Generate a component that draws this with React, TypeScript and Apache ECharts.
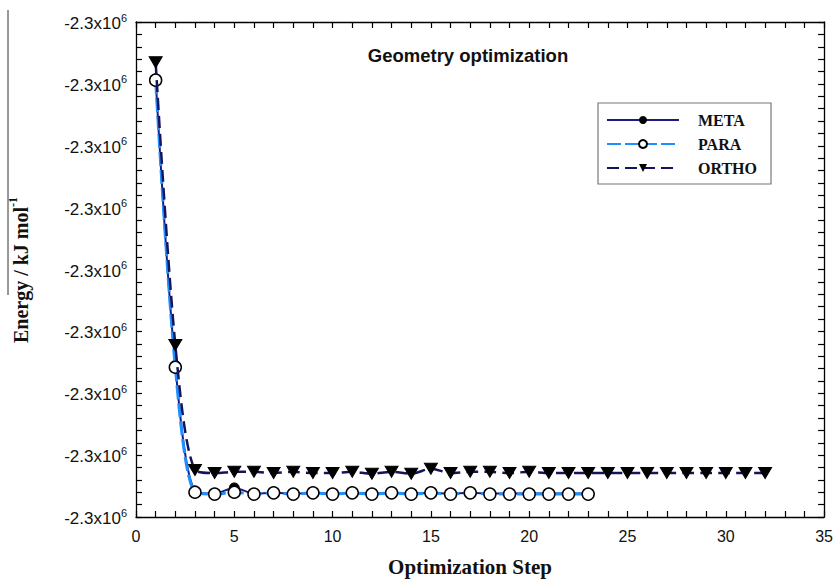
import React, { useEffect, useRef } from "react";
import * as echarts from "echarts";

const OFFSET = -2300000;
const metaSteps = [1,2,3,4,5,6,7,8,9,10,11,12,13,14,15,16,17,18,19,20,21,22,23];
const metaValues = [-9.2,-55.5,-75.8,-76.2,-75.3,-76.2,-76.1,-76.2,-76.1,-76.2,-76.1,-76.2,-76.1,-76.2,-76.1,-76.2,-76.1,-76.2,-76.2,-76.2,-76.2,-76.2,-76.2];
const paraSteps = [1,2,3,4,5,6,7,8,9,10,11,12,13,14,15,16,17,18,19,20,21,22,23];
const paraValues = [-9.4,-55.8,-76.0,-76.3,-76.0,-76.3,-76.1,-76.3,-76.1,-76.3,-76.1,-76.3,-76.1,-76.3,-76.1,-76.3,-76.1,-76.3,-76.3,-76.3,-76.3,-76.3,-76.3];
const orthoSteps = [1,2,3,4,5,6,7,8,9,10,11,12,13,14,15,16,17,18,19,20,21,22,23,24,25,26,27,28,29,30,31,32];
const orthoValues = [-6.5,-52.2,-72.4,-72.9,-72.7,-72.7,-72.9,-72.7,-72.9,-72.9,-72.7,-73.0,-72.7,-73.0,-72.2,-72.9,-72.7,-72.7,-72.9,-72.7,-72.9,-72.9,-72.9,-72.9,-72.9,-72.9,-72.9,-72.9,-72.9,-72.9,-72.9,-72.9];
const xTicks = [0, 5, 10, 15, 20, 25, 30, 35];
const yTickLabel = "-2.3x10";
const yTickExp = "6";

const pairs = (xs: number[], ys: number[]) => xs.map((x, i) => [x, OFFSET + ys[i]]);

const tick = () => ({ show: true, inside: true, length: 6, lineStyle: { color: "#000", width: 1.2 } });
const minor = () => ({ show: true, splitNumber: 5, length: 6, lineStyle: { color: "#000", width: 1.2 } });
const line = () => ({ show: true, onZero: false, lineStyle: { color: "#000", width: 1.3 } });

export default function App() {
  const ref = useRef<HTMLDivElement>(null);
  useEffect(() => {
    const chart = echarts.init(ref.current!, null, { renderer: "svg" });
    chart.setOption({
      animation: false,
      grid: { left: 136, top: 22, right: 10, bottom: 62 },
      xAxis: [
        {
          type: "value", min: 0, max: 35, interval: 5, position: "bottom",
          axisLine: line(), axisTick: tick(), minorTick: minor(),
          splitLine: { show: false },
          axisLabel: {
            margin: 11, color: "#111", fontSize: 16, fontFamily: "Liberation Sans",
            formatter: (v: number) => (xTicks.includes(v) ? String(v) : ""),
          },
        },
        {
          type: "value", min: 0, max: 35, interval: 5, position: "top",
          axisLine: line(), axisTick: tick(), minorTick: minor(),
          splitLine: { show: false }, axisLabel: { show: false },
        },
      ],
      yAxis: [
        {
          type: "value", min: OFFSET - 80, max: OFFSET, interval: 10, position: "left",
          axisLine: line(), axisTick: tick(), minorTick: minor(),
          splitLine: { show: false },
          axisLabel: {
            margin: 9,
            formatter: () => `{a|${yTickLabel}}{b|${yTickExp}}`,
            rich: {
              a: { fontSize: 17, fontFamily: "Liberation Sans", color: "#111", lineHeight: 20, verticalAlign: "bottom" },
              b: { fontSize: 11, fontFamily: "Liberation Sans", color: "#111", lineHeight: 20, verticalAlign: "top", padding: [0, 0, 10, 0] },
            },
          },
        },
        {
          type: "value", min: OFFSET - 80, max: OFFSET, interval: 10, position: "right",
          axisLine: line(), axisTick: tick(), minorTick: minor(),
          splitLine: { show: false }, axisLabel: { show: false },
        },
      ],
      legend: {
        orient: "vertical", left: 598, top: 103,
        padding: [9, 14, 8, 8], itemGap: 8,
        borderColor: "#777", borderWidth: 1.2, backgroundColor: "#fff",
        itemWidth: 72, itemHeight: 10,
        textStyle: { fontFamily: "Liberation Serif", fontWeight: "bold", fontSize: 16, color: "#111", padding: [0, 0, 0, 14] },
        data: ["META", "PARA", "ORTHO"],
      },
      graphic: [
        {
          type: "text", x: 468, y: 55,
          style: {
            text: "Geometry optimization", fontFamily: "Liberation Sans", fontWeight: "bold",
            fontSize: 18.5, fill: "#111", align: "center", verticalAlign: "middle",
          },
        },
        {
          type: "text", x: 470, y: 567,
          style: {
            text: "Optimization Step", fontFamily: "Liberation Serif", fontWeight: "bold",
            fontSize: 21, fill: "#111", align: "center", verticalAlign: "middle",
          },
        },
        {
          type: "text", x: 19, y: 270, rotation: Math.PI / 2,
          style: {
            text: "{a|Energy / kJ mol}{b|-1}",
            align: "center", verticalAlign: "middle",
            rich: {
              a: { fontFamily: "Liberation Serif", fontWeight: "bold", fontSize: 20, fill: "#111", lineHeight: 24, verticalAlign: "bottom" },
              b: { fontFamily: "Liberation Serif", fontWeight: "bold", fontSize: 12, fill: "#111", lineHeight: 24, verticalAlign: "top", padding: [0, 0, 12, 0] },
            },
          },
        },
        {
          type: "line", shape: { x1: 8, y1: 10, x2: 8, y2: 295 },
          style: { stroke: "#333", lineWidth: 1 },
        },
      ],
      series: [
        {
          name: "META", type: "line", data: pairs(metaSteps, metaValues), smooth: 0.3,
          symbol: "circle", symbolSize: 10,
          lineStyle: { color: "#1b1b80", width: 2, type: "solid" },
          itemStyle: { color: "#000", borderColor: "#000" },
          z: 2,
        },
        {
          name: "PARA", type: "line", data: pairs(paraSteps, paraValues), smooth: 0.3,
          symbol: "circle", symbolSize: 12,
          lineStyle: { color: "#1e8fff", width: 3, type: [14, 4] },
          itemStyle: { color: "#fff", borderColor: "#000", borderWidth: 1.5 },
          z: 3,
        },
        {
          name: "ORTHO", type: "line", data: pairs(orthoSteps, orthoValues), smooth: 0.3,
          symbol: "triangle", symbolRotate: 180, symbolSize: [13, 11],
          lineStyle: { color: "#14145c", width: 2.5, type: [12, 6] },
          itemStyle: { color: "#000", borderColor: "#000" },
          z: 4,
        },
      ],
    });
    return () => chart.dispose();
  }, []);
  return <div ref={ref} style={{ position: "absolute", left: 0, top: 0, width: 836, height: 579 }} />;
}
